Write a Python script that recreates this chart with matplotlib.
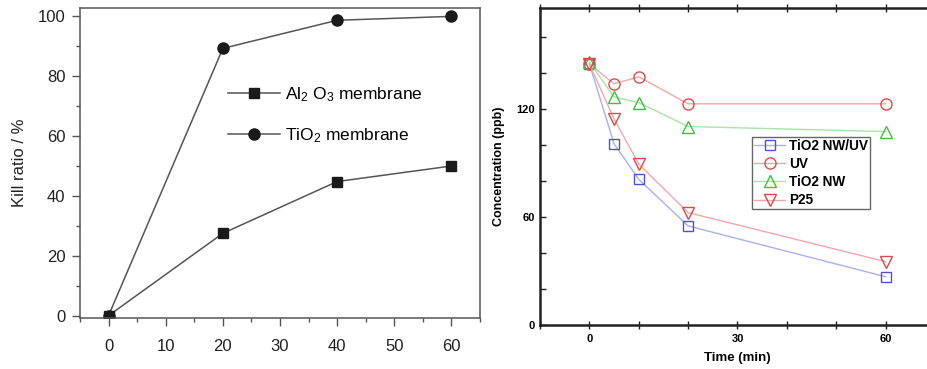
import matplotlib
matplotlib.use("Agg")
import matplotlib.pyplot as plt
from matplotlib.ticker import MultipleLocator

plt.rcParams['font.family'] = ['Liberation Sans', 'DejaVu Sans']
plt.rcParams['mathtext.fontset'] = 'custom'
plt.rcParams['mathtext.rm'] = 'Liberation Sans'

# ==========================
# DADOS - painel esquerdo
# ==========================
tempo_kill = [0, 20, 40, 60]
kill_al2o3 = [0, 27.5, 44.8, 50]
kill_tio2 = [0, 89.3, 98.7, 100]

# ==========================
# DADOS - painel direito
# ==========================
tempo_conc = [0, 5, 10, 20, 60]
conc_nw_uv = [145, 100.6, 80.9, 55, 26.8]
conc_uv = [145, 133.9, 137.8, 122.8, 122.8]
conc_nw = [146, 126.5, 123.5, 110.2, 107.4]
conc_p25 = [145, 114.4, 89.4, 62.4, 35.2]

W, H = 928, 369
fig = plt.figure(figsize=(W / 100, H / 100), dpi=100)


def caixa(x0, x1, y0, y1):
    return [x0 / W, 1 - y1 / H, (x1 - x0) / W, (y1 - y0) / H]


# ==========================
# PAINEL ESQUERDO
# ==========================
ax1 = fig.add_axes(caixa(80, 480, 8, 318))
cinza = '#555555'
ax1.plot(tempo_kill, kill_al2o3, '-s', color=cinza, lw=1.1, ms=6.5,
         mfc='#1a1a1a', mec='#1a1a1a', label=r'Al$\mathregular{_2}$ O$\mathregular{_3}$ membrane')
ax1.plot(tempo_kill, kill_tio2, '-o', color=cinza, lw=1.1, ms=8,
         mfc='#1a1a1a', mec='#1a1a1a', label=r'TiO$\mathregular{_2}$ membrane')
ax1.set_xlim(-5, 65)
ax1.set_ylim(-0.8, 102.8)
ax1.xaxis.set_major_locator(MultipleLocator(10))
ax1.xaxis.set_minor_locator(MultipleLocator(5))
ax1.yaxis.set_major_locator(MultipleLocator(20))
ax1.yaxis.set_minor_locator(MultipleLocator(10))
ax1.tick_params(which='both', direction='out', color=cinza, labelsize=12,
                labelcolor='#222222')
ax1.tick_params(which='major', length=5.5, width=1)
ax1.tick_params(which='minor', length=3, width=1)
ax1.tick_params(axis='x', which='major', pad=9.5)
ax1.tick_params(axis='y', which='major', pad=5)
for s in ax1.spines.values():
    s.set_color(cinza)
    s.set_linewidth(1.1)
ax1.set_ylabel('Kill ratio / %', fontsize=12, color='#222222', labelpad=8)
ax1.legend(loc='upper left', bbox_to_anchor=(228 / W, 1 - 85 / H),
           bbox_transform=fig.transFigure, frameon=False, fontsize=12.5,
           handlelength=3.0, handletextpad=0.3, labelspacing=1.3,
           borderpad=0, borderaxespad=0)

# ==========================
# PAINEL DIREITO
# ==========================
ax2 = fig.add_axes(caixa(540, 935, 8, 325))
azul, vermelho, verde = '#5050d8', '#e04848', '#40c040'
ax2.plot(tempo_conc, conc_nw_uv, '-s', color='#aab0ee', lw=1, ms=7,
         mfc='none', mec=azul, mew=1, label='TiO2 NW/UV')
ax2.plot(tempo_conc, conc_uv, '-o', color='#f2a8a8', lw=1, ms=8,
         mfc='none', mec=vermelho, mew=1, label='UV')
ax2.plot(tempo_conc, conc_nw, '-^', color='#a8e4a8', lw=1, ms=8,
         mfc='none', mec=verde, mew=1, label='TiO2 NW')
ax2.plot(tempo_conc, conc_p25, '-v', color='#f2a8a8', lw=1, ms=8,
         mfc='none', mec=vermelho, mew=1, label='P25')
ax2.set_xlim(-10, 70)
ax2.set_ylim(0, 176)
ax2.xaxis.set_major_locator(MultipleLocator(30))
ax2.xaxis.set_minor_locator(MultipleLocator(10))
ax2.yaxis.set_major_locator(MultipleLocator(60))
ax2.yaxis.set_minor_locator(MultipleLocator(20))
ax2.tick_params(which='both', top=True, right=True, color='#222222',
                labelsize=8, width=1)
ax2.tick_params(axis='x', which='both', direction='inout', length=6)
ax2.tick_params(axis='y', which='both', direction='in', length=4)
for lab in ax2.get_xticklabels() + ax2.get_yticklabels():
    lab.set_fontweight('bold')
for s in ax2.spines.values():
    s.set_color('#222222')
    s.set_linewidth(1.8)
ax2.set_xlabel('Time (min)', fontsize=9.5, fontweight='bold', labelpad=6)
ax2.set_ylabel('Concentration (ppb)', fontsize=9, fontweight='bold', labelpad=8)
leg = ax2.legend(loc='upper left', bbox_to_anchor=(752 / W, 1 - 137 / H),
                 bbox_transform=fig.transFigure, fancybox=False,
                 handlelength=2.3, handletextpad=0.25, labelspacing=0.3,
                 borderpad=0.15, borderaxespad=0, framealpha=1,
                 prop={'weight': 'bold', 'size': 9.8})
leg.get_frame().set_edgecolor('#666666')
leg.get_frame().set_linewidth(1)

fig.savefig('out.png', dpi=100)
